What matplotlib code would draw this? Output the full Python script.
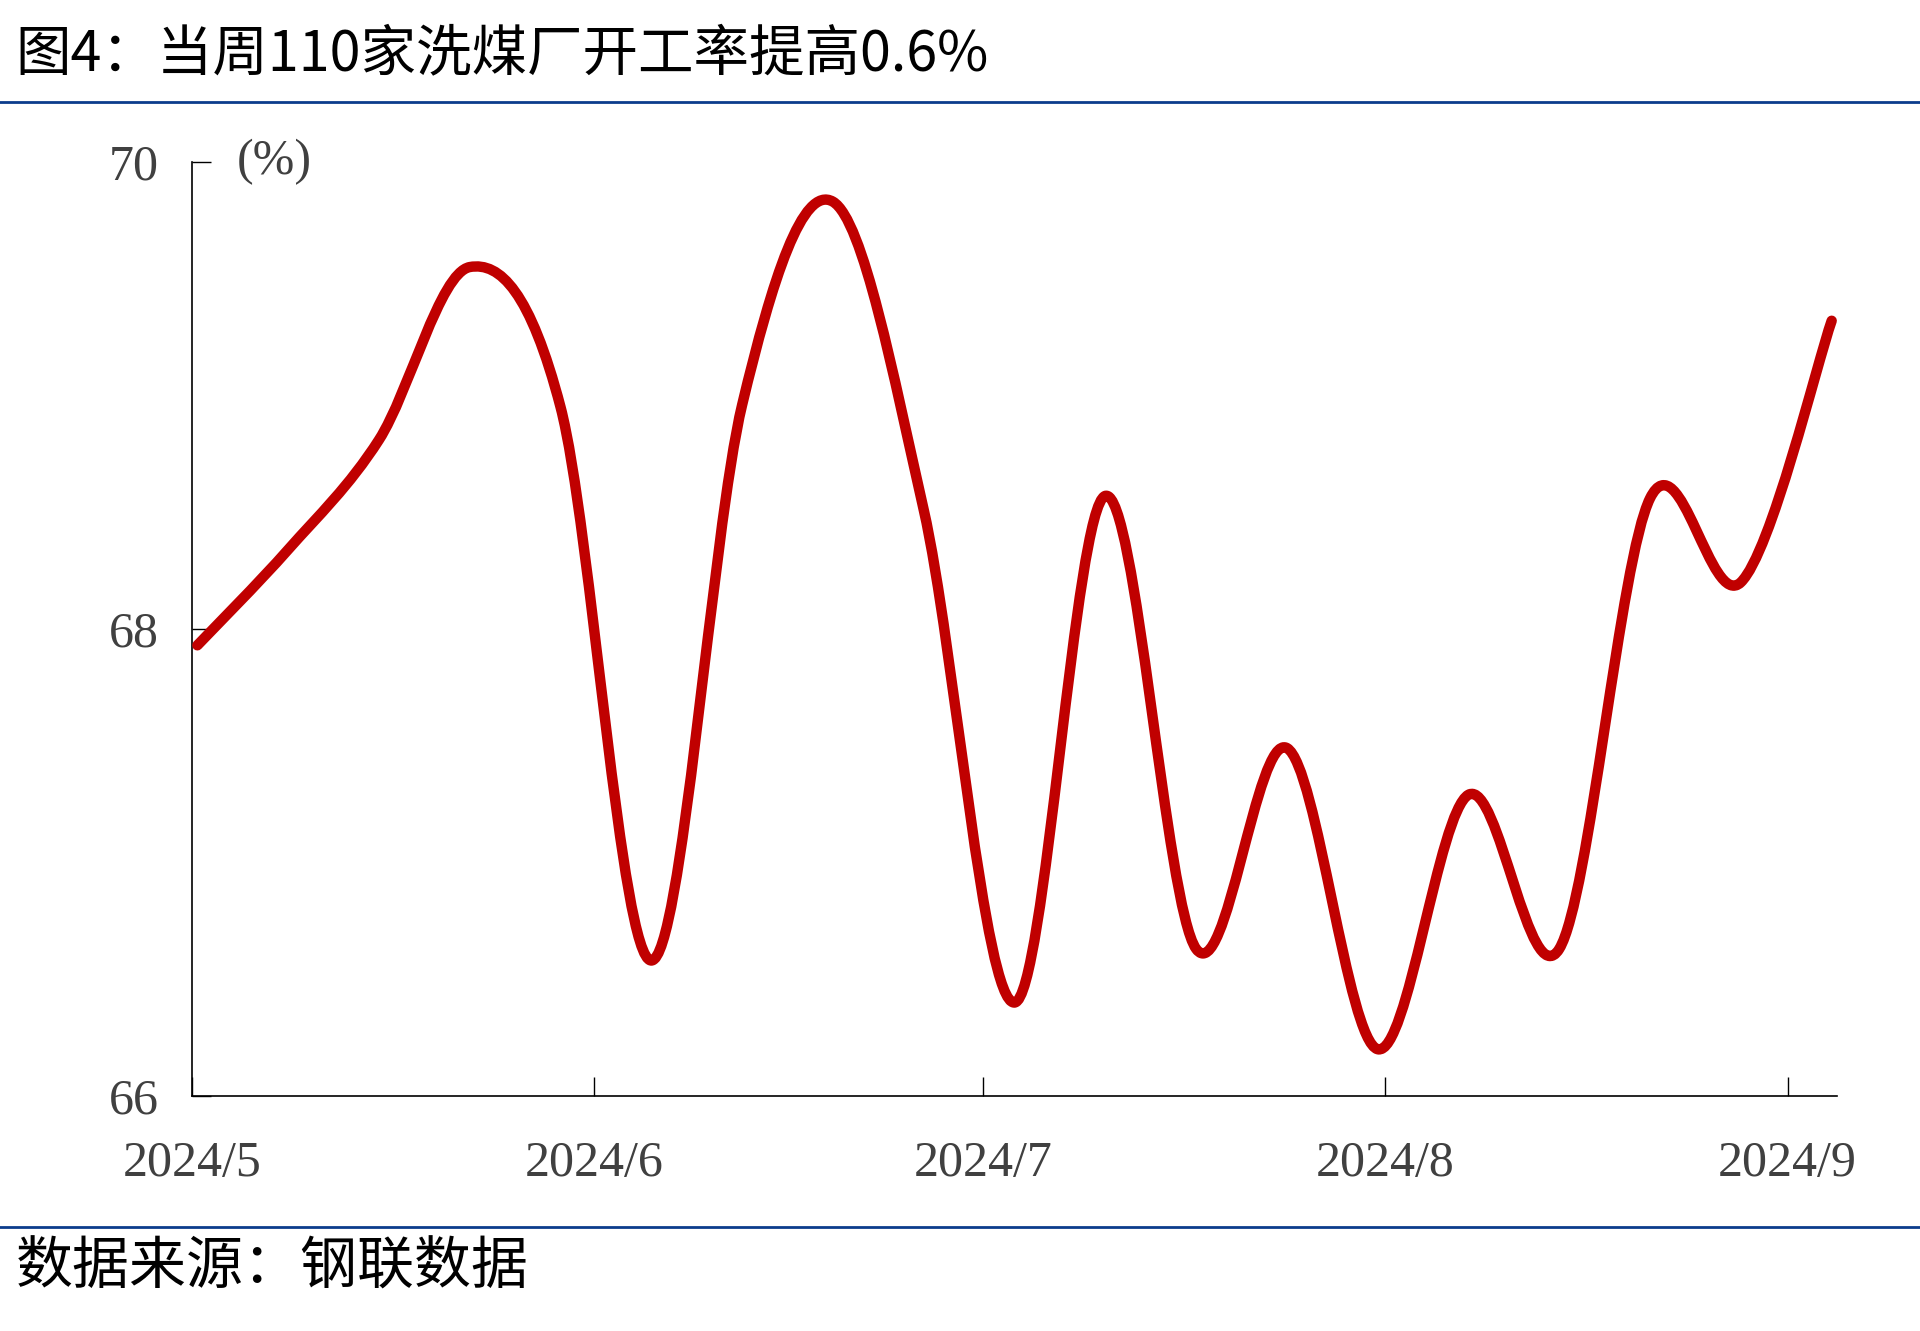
import numpy as np
import pandas as pd
import matplotlib
matplotlib.use("Agg")
import matplotlib.pyplot as plt
import matplotlib.dates as mdates
from matplotlib.path import Path
from matplotlib.patches import PathPatch
from matplotlib.lines import Line2D

# 110家洗煤厂开工率（%），周度
dates = pd.date_range("2024-05-01", periods=19, freq="7D")
rate = [67.93, 68.34, 68.81, 69.55, 68.95, 66.58, 68.96, 69.83, 68.51, 66.40,
        68.57, 66.63, 67.49, 66.20, 67.29, 66.63, 68.56, 68.20, 69.32]
tick_dates = pd.to_datetime(["2024-05-01", "2024-06-01", "2024-07-01", "2024-08-01", "2024-09-01"])
tick_labels = ["2024/5", "2024/6", "2024/7", "2024/8", "2024/9"]

title = "图4：当周110家洗煤厂开工率提高0.6%"
source = "数据来源：钢联数据"

plt.rcParams["font.family"] = ["Noto Sans CJK SC", "DejaVu Sans"]
serif = ["Liberation Serif", "DejaVu Serif"]
line_color = "#C00000"
blue = "#0B3C8C"
grey = "#404040"

fig = plt.figure(figsize=(19.2, 13.31), dpi=100)
ax = fig.add_axes([0.1001, 0.1766, 0.9567 - 0.1001, 0.8783 - 0.1766])

# 平滑曲线（类似 Excel 平滑线的贝塞尔曲线），点位略偏半天
x = mdates.date2num(dates) + 0.4
y = np.array(rate)
pts = np.column_stack([x, y])
ext = np.vstack([pts[0], pts, pts[-1]])
verts = [tuple(pts[0])]
codes = [Path.MOVETO]
for i in range(len(pts) - 1):
    p0, p1, p2, p3 = ext[i], ext[i + 1], ext[i + 2], ext[i + 3]
    c1 = p1 + (p2 - p0) / 6.0
    c2 = p2 - (p3 - p1) / 6.0
    verts += [tuple(c1), tuple(c2), tuple(p2)]
    codes += [Path.CURVE4] * 3
patch = PathPatch(Path(verts, codes), facecolor="none", edgecolor=line_color,
                  lw=7.5, capstyle="round", joinstyle="round", zorder=3)
ax.add_patch(patch)

ax.set_xlim(mdates.date2num(pd.Timestamp("2024-05-01")),
            mdates.date2num(pd.Timestamp("2024-09-01")) + 3.8)
ax.set_ylim(66, 70)
ax.set_yticks([66, 68, 70])
ax.set_xticks(mdates.date2num(tick_dates))
ax.set_xticklabels(tick_labels)

for s in ["top", "right"]:
    ax.spines[s].set_visible(False)
for s in ["left", "bottom"]:
    ax.spines[s].set_linewidth(1.2)
    ax.spines[s].set_color("black")

ax.tick_params(axis="both", direction="in", length=14, width=1.0, colors="black",
               labelcolor=grey, labelsize=36)
ax.tick_params(axis="x", pad=32)
ax.tick_params(axis="y", pad=24)
for lab in ax.get_xticklabels() + ax.get_yticklabels():
    lab.set_family(serif)

ax.text(0.027, 1.0, "(%)", transform=ax.transAxes, ha="left", va="center",
        fontsize=36, color=grey, family=serif)

fig.text(0.008, 0.9587, title, ha="left", va="center", fontsize=40, color="black")
fig.text(0.008, 0.0481, source, ha="left", va="center", fontsize=41, color="black")

fig.add_artist(Line2D([0, 1], [0.9234, 0.9234], transform=fig.transFigure, color=blue, lw=2))
fig.add_artist(Line2D([0, 1], [0.0781, 0.0781], transform=fig.transFigure, color=blue, lw=2))

fig.savefig("out.png", dpi=100)
plt.close(fig)
